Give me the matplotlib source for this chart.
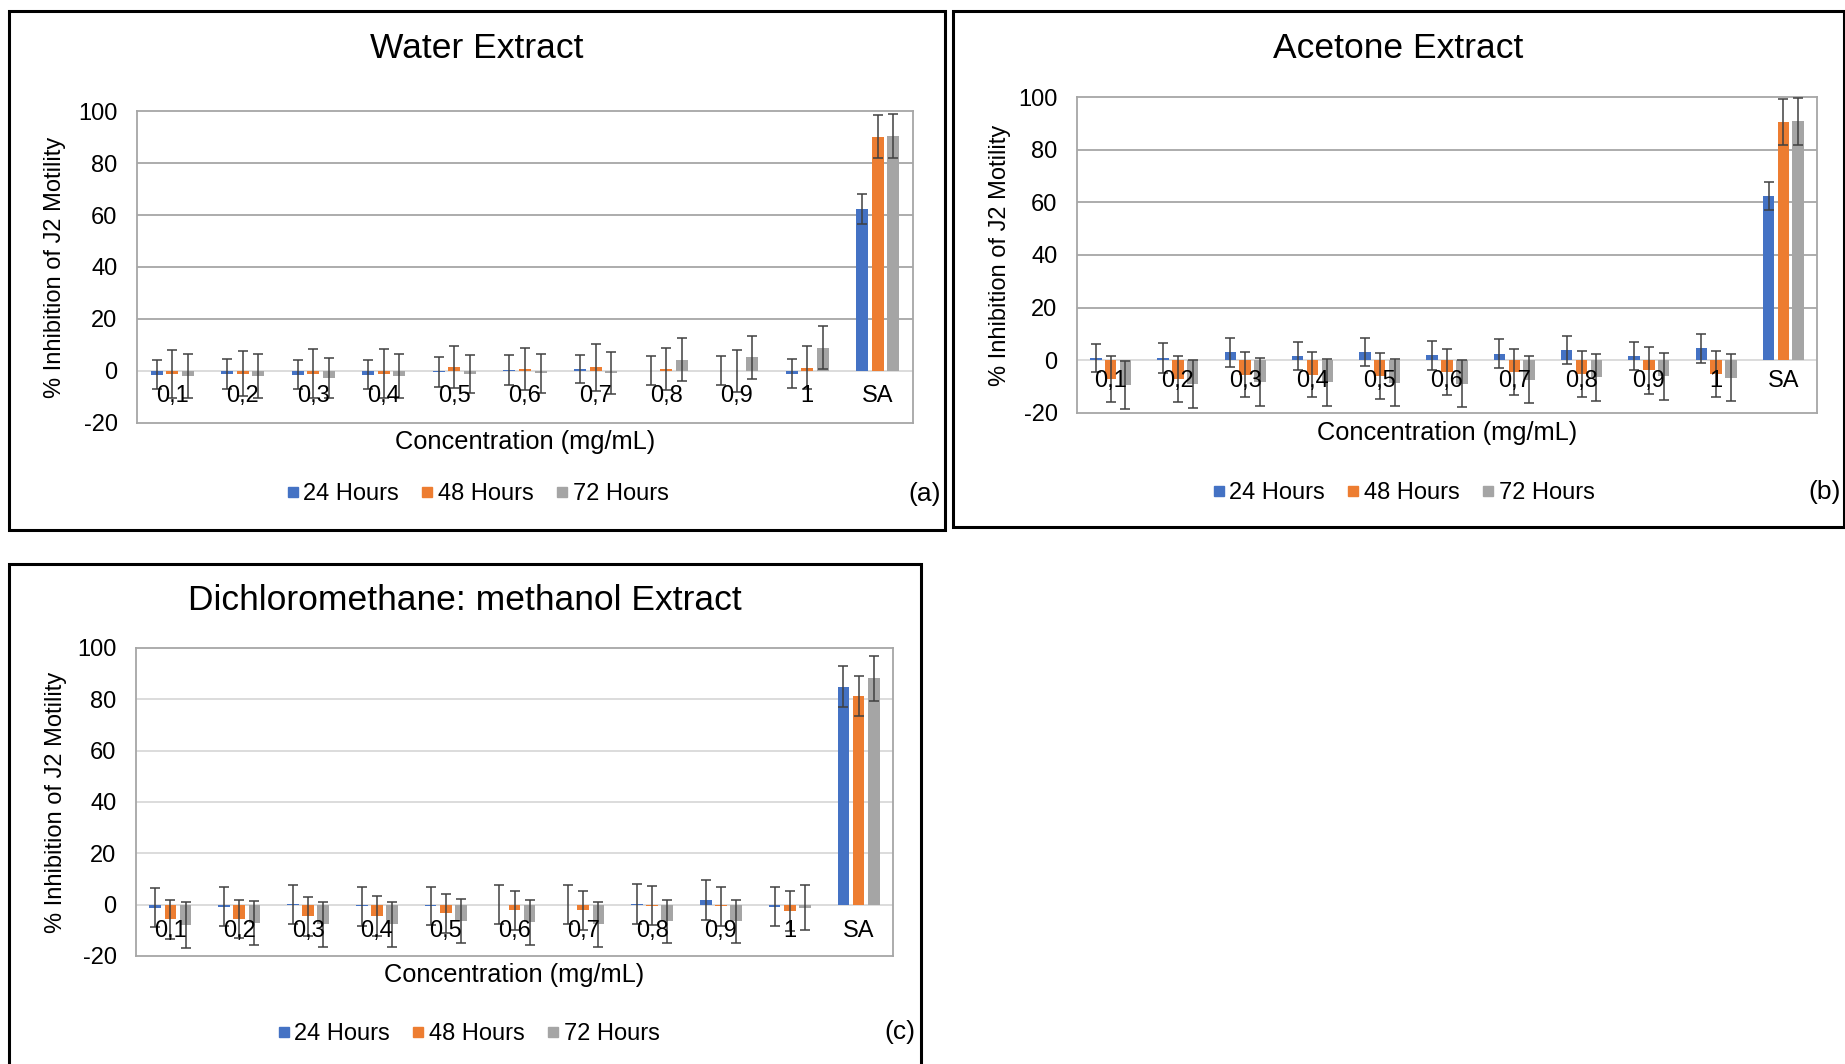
import numpy as np
import matplotlib.pyplot as plt
from matplotlib.patches import Rectangle
from matplotlib.lines import Line2D

plt.rcParams['font.family'] = ['Liberation Sans', 'DejaVu Sans']

# kategorier og serier
categories = ['0,1', '0,2', '0,3', '0,4', '0,5', '0,6', '0,7', '0,8', '0,9', '1', 'SA']
series_names = ['24 Hours', '48 Hours', '72 Hours']
colors = ['#4472C4', '#ED7D31', '#A5A5A5']

# (a) Water Extract
water_24 = [-1.5, -1.2, -1.4, -1.4, -0.4, 0.3, 0.8, 0.1, 0.1, -1.0, 62.2]
water_48 = [-1.0, -1.0, -1.0, -1.0, 1.5, 0.8, 1.4, 0.8, -0.1, 1.3, 90.1]
water_72 = [-1.9, -1.9, -2.6, -1.9, -1.2, -0.9, -0.8, 4.3, 5.3, 9.0, 90.4]
water_24_err = [5.6, 5.8, 5.6, 5.6, 5.6, 5.8, 5.4, 5.6, 5.6, 5.6, 5.8]
water_48_err = [9.2, 8.5, 9.3, 9.3, 8.1, 8.0, 9.0, 8.0, 8.1, 8.3, 8.3]
water_72_err = [8.3, 8.3, 7.7, 8.3, 7.4, 7.6, 8.2, 8.3, 8.3, 8.3, 8.3]

# (b) Acetone Extract
acetone_24 = [0.9, 0.9, 3.0, 1.6, 3.1, 2.0, 2.5, 4.0, 1.6, 4.5, 62.4]
acetone_48 = [-7.1, -7.1, -5.5, -5.5, -5.8, -4.5, -4.5, -5.2, -3.7, -5.1, 90.5]
acetone_72 = [-9.3, -9.0, -8.3, -8.4, -8.5, -8.9, -7.4, -6.4, -6.0, -6.6, 90.7]
acetone_24_err = [5.4, 5.6, 5.4, 5.4, 5.4, 5.5, 5.5, 5.4, 5.4, 5.5, 5.4]
acetone_48_err = [8.6, 8.6, 8.5, 8.5, 8.7, 8.7, 8.7, 8.7, 8.9, 8.7, 8.9]
acetone_72_err = [9.0, 9.0, 9.0, 9.0, 9.0, 8.9, 8.9, 8.9, 8.9, 9.0, 9.0]

# (c) Dichloromethane: methanol Extract
dcm_24 = [-1.2, -0.8, 0.1, -0.6, -0.6, -0.1, 0.0, 0.2, 1.8, -0.8, 84.9]
dcm_48 = [-5.7, -5.6, -4.6, -4.5, -3.4, -2.2, -2.2, -0.4, -0.6, -2.5, 81.3]
dcm_72 = [-7.8, -7.1, -7.6, -7.6, -6.5, -6.9, -7.6, -6.4, -6.5, -1.2, 88.2]
dcm_24_err = [7.5, 7.5, 7.5, 7.6, 7.3, 7.6, 7.7, 7.9, 7.8, 7.7, 7.9]
dcm_48_err = [7.7, 7.5, 7.6, 7.9, 7.7, 7.6, 7.6, 7.7, 7.6, 7.7, 7.8]
dcm_72_err = [8.9, 8.6, 8.8, 8.8, 8.6, 8.8, 8.8, 8.4, 8.4, 8.8, 8.8]

yticks = [-20, 0, 20, 40, 60, 80, 100]

W, H = 1845, 1064
fig = plt.figure(figsize=(W / 100, H / 100), dpi=100)
fig.patch.set_facecolor('white')

def fx(x):
    return x / W

def fy(y):
    return 1 - y / H

panels = [
    dict(title='Water Extract', tag='(a)',
         vals=[water_24, water_48, water_72],
         errs=[water_24_err, water_48_err, water_72_err],
         frame=(9, 11, 945, 530), ax=(137, 111, 913, 423),
         title_y=49, xlab_y=442, leg=(477, 494), tagpos=(925, 494),
         ylab_x=55, cat_off=25, grid='#A6A6A6'),
    dict(title='Acetone Extract', tag='(b)',
         vals=[acetone_24, acetone_48, acetone_72],
         errs=[acetone_24_err, acetone_48_err, acetone_72_err],
         frame=(953, 11, 1844, 527), ax=(1077, 97, 1817, 413),
         title_y=49, xlab_y=433, leg=(1403, 493), tagpos=(1825, 492),
         ylab_x=1000, cat_off=21, grid='#A6A6A6'),
    dict(title='Dichloromethane: methanol Extract', tag='(c)',
         vals=[dcm_24, dcm_48, dcm_72],
         errs=[dcm_24_err, dcm_48_err, dcm_72_err],
         frame=(9, 564, 921, 1075), ax=(136, 648, 893, 956),
         title_y=600, xlab_y=975, leg=(468, 1034), tagpos=(900, 1032),
         ylab_x=56, cat_off=26, grid='#D9D9D9'),
]

x = np.arange(len(categories))
width = 0.17
offsets = [-0.22, 0.0, 0.22]

for p in panels:
    l, t, r, b = p['frame']
    fig.patches.append(Rectangle((fx(l), fy(b)), (r - l) / W, (b - t) / H,
                                 transform=fig.transFigure, fill=False,
                                 edgecolor='black', linewidth=2.2))
    al, at, ar, ab = p['ax']
    ax = fig.add_axes([fx(al), fy(ab), (ar - al) / W, (ab - at) / H])
    ax.set_xlim(-0.5, len(categories) - 0.5)
    ax.set_ylim(-20, 100)
    ax.set_yticks(yticks)
    ax.set_yticklabels([str(v) for v in yticks], fontsize=17)
    ax.tick_params(axis='y', length=0, pad=14)
    ax.set_xticks([])
    for s in ax.spines.values():
        s.set_color('#A6A6A6')
        s.set_linewidth(1.3)
    for g in yticks[2:-1]:
        ax.axhline(g, color=p['grid'], linewidth=1.3, zorder=0)
    ax.axhline(0, color='#D9D9D9', linewidth=1.3, zorder=0)

    for i in range(3):
        ax.bar(x + offsets[i], p['vals'][i], width, color=colors[i], zorder=2)
        ax.errorbar(x + offsets[i], p['vals'][i], yerr=p['errs'][i], fmt='none',
                    ecolor='#404040', elinewidth=1.1, capsize=3.5, capthick=1.1,
                    zorder=3)

    for xi, lab in zip(x, categories):
        ax.annotate(lab, (xi, 0), xytext=(0, -p['cat_off'] * 0.72),
                    textcoords='offset points', ha='center', va='center',
                    fontsize=17, zorder=4)

    fig.text(fx((l + r) / 2), fy(p['title_y']), p['title'], ha='center',
             va='center', fontsize=25.5)
    fig.text(fx((al + ar) / 2), fy(p['xlab_y']), 'Concentration (mg/mL)',
             ha='center', va='center', fontsize=18.3)
    fig.text(fx(p['ylab_x']), fy((at + ab) / 2), '% Inhibition of J2 Motility',
             ha='center', va='center', rotation=90, fontsize=17)
    fig.text(fx(p['tagpos'][0]), fy(p['tagpos'][1]), p['tag'], ha='center',
             va='center', fontsize=19)

    handles = [Line2D([0], [0], marker='s', linestyle='none', color=c,
                      markersize=7) for c in colors]
    fig.legend(handles, series_names, loc='center', ncol=3, frameon=False,
               bbox_to_anchor=(fx(p['leg'][0]), fy(p['leg'][1])),
               fontsize=17, handlelength=0.6, handletextpad=0.15,
               columnspacing=0.9)

fig.savefig('out.png', dpi=100)
